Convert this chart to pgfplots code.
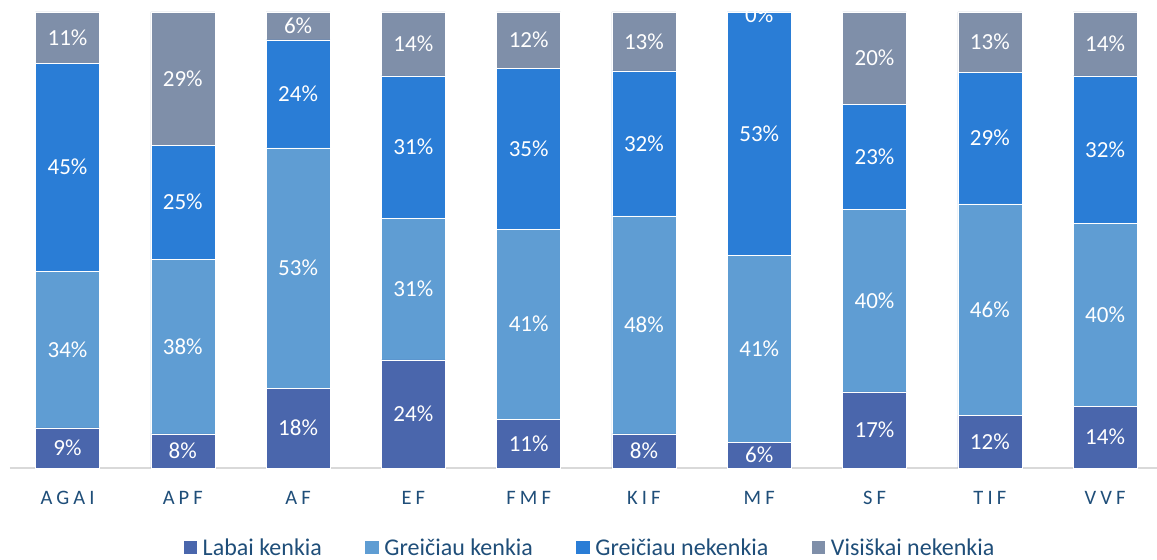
\documentclass[border=0pt]{standalone}
\usepackage{pgfplots}
\pgfplotsset{compat=1.18}
\usepackage{fontspec}
\setmainfont{Carlito}
\newfontfamily\spacedfont[LetterSpace=20]{Carlito}
\definecolor{cLabai}{HTML}{4A66AC}
\definecolor{cGrK}{HTML}{5F9DD3}
\definecolor{cGrN}{HTML}{2A7DD6}
\definecolor{cVis}{HTML}{7F8FA9}
\definecolor{cNavy}{HTML}{1F4E79}
\begin{document}
\begin{tikzpicture}
\begin{axis}[name=ax, scale only axis, width=1147pt, height=456pt,
  ybar stacked, bar width=64pt,
  xmin=-0.5, xmax=9.45, ymin=0, ymax=100,
  enlarge x limits=false, enlarge y limits=false,
  axis x line*=bottom, axis y line=none,
  x axis line style={draw=black!15, line width=1.3pt, -},
  xtick={0,...,9},
  xticklabels={AGAI,APF,AF,EF,FMF,KIF,MF,SF,TIF,VVF},
  major tick length=0pt,
  xticklabel style={font=\spacedfont\fontsize{20.5}{24}\selectfont, text=cNavy, yshift=-20pt},
  ytick=\empty,
  legend columns=4,
  legend style={draw=none, fill=none, at={(0.5058,-0.1745)}, anchor=center,
    font=\fontsize{24}{27}\selectfont, text=cNavy,
    /tikz/every odd column/.append style={column sep=3.6pt},
    /tikz/every even column/.append style={column sep=41.5pt}},
  legend image code/.code={\path[#1,draw=none] (0pt,-6.7pt) rectangle (13.4pt,6.7pt);},
  every axis plot/.append style={draw=white, line width=0.5pt},
]
\addplot[fill=cLabai] coordinates {(0,8.8) (1,7.5) (2,17.5) (3,23.7) (4,10.7) (5,7.5) (6,5.7) (7,16.7) (8,11.6) (9,13.6)};
\addplot[fill=cGrK] coordinates {(0,34.4) (1,38.3) (2,52.7) (3,31.1) (4,41.7) (5,47.8) (6,41.0) (7,40.1) (8,46.3) (9,40.1)};
\addplot[fill=cGrN] coordinates {(0,45.6) (1,25.0) (2,23.7) (3,31.2) (4,35.3) (5,31.8) (6,53.3) (7,23.0) (8,28.9) (9,32.3)};
\addplot[fill=cVis] coordinates {(0,11.2) (1,29.2) (2,6.1) (3,14.0) (4,12.3) (5,12.9) (6,0) (7,20.2) (8,13.2) (9,14.0)};
\legend{Labai kenkia, Greičiau kenkia, Greičiau nekenkia, Visiškai nekenkia}
\end{axis}
\begin{axis}[at={(ax.south west)}, anchor=south west, scale only axis, width=1147pt, height=456pt,
  xmin=-0.5, xmax=9.45, ymin=0, ymax=100, enlarge x limits=false, enlarge y limits=false,
  hide axis, clip=false]
\addplot[only marks, mark=*, mark size=0pt, mark options={draw=none,fill=none},
  point meta=explicit symbolic, nodes near coords={\pgfplotspointmeta\%},
  nodes near coords style={anchor=center, text=white, font=\fontsize{23}{26}\selectfont}]
  table[meta=l] {
x y l
0 4.4 9
0 26.0 34
0 66.0 45
0 94.4 11
1 3.75 8
1 26.65 38
1 58.3 25
1 85.4 29
2 8.75 18
2 43.85 53
2 82.05 24
2 96.95 6
3 11.85 24
3 39.25 31
3 70.4 31
3 93.0 14
4 5.35 11
4 31.55 41
4 70.05 35
4 93.85 12
5 3.75 8
5 31.4 48
5 71.2 32
5 93.55 13
6 2.85 6
6 26.2 41
6 73.35 53
6 99.4 0
7 8.35 17
7 36.75 40
7 68.3 23
7 89.9 20
8 5.8 12
8 34.75 46
8 72.35 29
8 93.4 13
9 6.8 14
9 33.65 40
9 69.85 32
9 93.0 14
};
\end{axis}
\pgfresetboundingbox
\useasboundingbox ([shift={(-9.85pt,-91pt)}]ax.south west) rectangle ([shift={(0pt,12pt)}]ax.north east);
\end{tikzpicture}
\end{document}
